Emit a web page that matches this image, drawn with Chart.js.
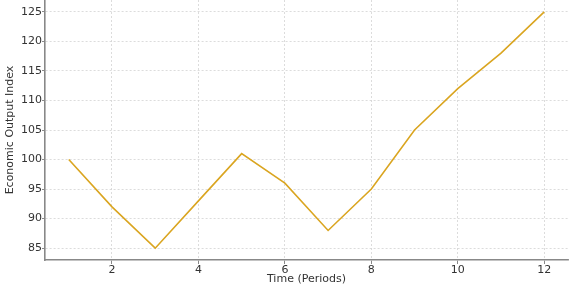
<!DOCTYPE html>
<html>
<head>
<meta charset="utf-8">
<script src="https://cdn.jsdelivr.net/npm/chart.js@4/dist/chart.umd.min.js"></script>
<style>
  html, body { margin: 0; padding: 0; background: #fff; }
  #wrap { width: 588px; height: 292px; }
</style>
</head>
<body>
<div id="wrap"><canvas id="outputChart" width="588" height="292"></canvas></div>
<script>
const periods = [1, 2, 3, 4, 5, 6, 7, 8, 9, 10, 11, 12];
const outputIndex = [100, 92, 85, 93, 101, 96, 88, 95, 105, 112, 118, 125];
const xTickValues = [2, 4, 6, 8, 10, 12];
const yTickValues = [85, 90, 95, 100, 105, 110, 115, 120, 125];

const font = { family: "DejaVu Sans", size: 11 };

function fixTicks(values) {
  return function (scale) {
    scale.ticks = values.map((v) => ({ value: v }));
  };
}

const configOutputChart = {
  type: "line",
  data: {
    datasets: [
      {
        label: "Economic Output Index",
        data: periods.map((p, i) => ({ x: p, y: outputIndex[i] })),
        borderColor: "#DAA520",
        borderWidth: 1.6,
        pointRadius: 0,
        tension: 0,
        fill: false,
      },
    ],
  },
  options: {
    responsive: false,
    animation: false,
    layout: {
      padding: { left: 0, top: 0, right: 20, bottom: 0 },
    },
    scales: {
      x: {
        type: "linear",
        min: 0.45,
        max: 12.55,
        afterBuildTicks: fixTicks(xTickValues),
        afterFit: (scale) => {
          scale.height = 32;
          scale.paddingLeft = 0;
          scale.paddingRight = 0;
        },
        grid: {
          color: "#d3d3d3",
          lineWidth: 0.8,
          tickLength: 4,
          tickColor: "#888",
          tickWidth: 1,
          tickBorderDash: [],
        },
        border: { display: true, color: "#888", width: 1.6, dash: [2, 2] },
        ticks: {
          font: font,
          color: "#333",
          padding: 0,
          maxRotation: 0,
          callback: (v) => v,
        },
        title: {
          display: true,
          text: "Time (Periods)",
          font: font,
          color: "#333",
          padding: { top: 0, bottom: 6 },
        },
      },
      y: {
        min: 83,
        max: 127,
        afterBuildTicks: fixTicks(yTickValues),
        afterFit: (scale) => {
          scale.width = 45;
          scale.paddingTop = 0;
          scale.paddingBottom = 0;
        },
        grid: {
          color: "#d3d3d3",
          lineWidth: 0.8,
          tickLength: 3,
          tickColor: "#888",
          tickWidth: 1,
          tickBorderDash: [],
        },
        border: { display: true, color: "#888", width: 1.6, dash: [2, 2] },
        ticks: {
          font: font,
          color: "#333",
          padding: 0,
          callback: (v) => v,
        },
        title: {
          display: true,
          text: "Economic Output Index",
          font: font,
          color: "#333",
          padding: { top: 4, bottom: 0 },
        },
      },
    },
    plugins: {
      legend: { display: false },
      tooltip: { enabled: false },
    },
  },
};

const outputChart = new Chart(
  document.getElementById("outputChart"),
  configOutputChart
);
</script>
</body>
</html>
